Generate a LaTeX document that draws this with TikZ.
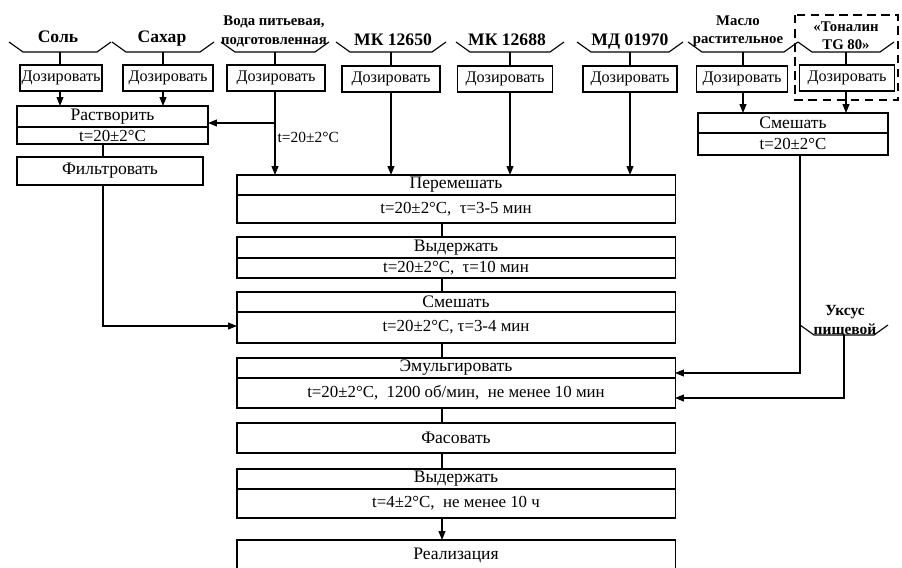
\documentclass[tikz,border=0pt]{standalone}
\usepackage{fontspec}
\setmainfont{Liberation Serif}
\usetikzlibrary{positioning,arrows.meta,calc}
\tikzset{
	dose/.style={draw, line width=0.8pt, minimum height=0.65cm, inner sep=0pt,
		font=\fontsize{11.5}{14}\selectfont},
	head/.style={draw, line width=0.8pt, minimum width=10.95cm, minimum height=0.5cm,
		inner sep=0pt, outer sep=0pt, font=\fontsize{12.5}{14}\selectfont},
	param/.style={head, font=\fontsize{12}{14}\selectfont},
	src/.style={font=\fontsize{12.5}{14}\selectfont\bfseries, align=center,
		anchor=base, inner sep=0pt},
	src2/.style={src, anchor=south, font=\fontsize{10.5}{13}\selectfont\bfseries},
	flow/.style={-{Triangle[length=2.2mm,width=1.7mm]}, line width=0.8pt},
	link/.style={line width=0.8pt},
	note/.style={font=\fontsize{11}{13}\selectfont, inner sep=1pt},
	% ----- bracket under a raw material -----
	pics/tray/.style={code={
			\draw[line width=0.8pt] (-#1-14,-10) -- (-#1,0) -- (#1,0) -- (#1+14,-10);
	}},
}

\begin{document}
\begin{tikzpicture}[x=0.025cm, y=-0.025cm]
		\useasboundingbox (0,0) rectangle (902,567);
		
		% ================= Raw materials =================
		\node[src] (salt) at (58,42) {Соль};
		\node[src] (sugar) at (162,42) {Сахар};
		\node[src2] (water) at (274,47) {Вода питьевая,\\подготовленная};
		\node[src] (mk1) at (393,45) {МК 12650};
		\node[src] (mk2) at (507,45) {МК 12688};
		\node[src] (md) at (630,45) {МД 01970};
		\node[src2] (oil) at (738,47) {Масло\\растительное};
		\node[src2] (ton) at (846,50) {«Тоналин\\TG 80»};
		
		\foreach \n/\x/\w in {salt/60/37, sugar/163/37, water/275/40, mk1/391/41,
			mk2/510/40, md/630/39, oil/743/41, ton/846/34}{
			\coordinate (\n B) at (\x,52);
			\pic at (\n B) {tray=\w};
		}
		
		\draw[dashed, line width=0.9pt, dash pattern=on 6pt off 4pt] (795,15) rectangle (898,100);
		
		% ================= Dosing =================
		\node[dose, minimum width=2.05cm] (saltD) at (61,78) {Дозировать};
		\node[dose, minimum width=2.25cm] (sugarD) at (168,78) {Дозировать};
		\node[dose, minimum width=2.45cm] (waterD) at (276,78) {Дозировать};
		\node[dose, minimum width=2.45cm] (mk1D) at (391,79) {Дозировать};
		\node[dose, minimum width=2.375cm] (mk2D) at (505,79) {Дозировать};
		\node[dose, minimum width=2.35cm] (mdD) at (630,79) {Дозировать};
		\node[dose, minimum width=2.275cm] (oilD) at (742,79) {Дозировать};
		\node[dose, minimum width=2.375cm] (tonD) at (847,78) {Дозировать};
		
		\foreach \n in {salt,sugar,water,mk1,mk2,md,oil,ton}
		\draw[link] (\n B) -- (\n B |- \n D.north);
		
		% ================= Left branch =================
		\node[head, minimum width=4.775cm, minimum height=0.525cm] (dis) at (112.5,116.5) {Растворить};
		\node[param, minimum width=4.775cm, minimum height=0.425cm, below=0pt of dis] (disP) {t=20±2°C};
		\node[head, minimum width=4.65cm, minimum height=0.7cm] (fil) at (110,171) {Фильтровать};
		
		% ================= Main line =================
		\node[head] (mixH) at (456,185) {Перемешать};
		\node[param, minimum height=0.7cm, below=0pt of mixH] (mixP) {t=20±2°C,\ \ τ=3-5 мин};
		\node[head, minimum height=0.525cm] (hold) at (456,247.5) {Выдержать};
		\node[param, below=0pt of hold] (holdP) {t=20±2°C,\ \ τ=10 мин};
		\node[head] (mix2) at (456,302) {Смешать};
		\node[param, minimum height=0.775cm, below=0pt of mix2] (mix2P) {t=20±2°C, τ=3-4 мин};
		\node[head] (emu) at (456,368) {Эмульгировать};
		\node[param, minimum height=0.75cm, below=0pt of emu] (emuP) {t=20±2°C,\ \ 1200 об/мин,\ \ не менее 10 мин};
		\node[head, minimum height=0.75cm] (pack) at (456,438) {Фасовать};
		\node[head] (hold2) at (456,479) {Выдержать};
		\node[param, minimum height=0.725cm, below=0pt of hold2] (hold2P) {t=4±2°C,\ \ не менее 10 ч};
		\node[head, minimum height=0.75cm] (sale) at (456,555) {Реализация};
		
		% ================= Right branch =================
		\node[head, minimum width=4.75cm] (rmix) at (793,123) {Смешать};
		\node[param, minimum width=4.75cm, minimum height=0.55cm, below=0pt of rmix] (rmixP) {t=20±2°C};
		
		\node[src2, font=\fontsize{11}{13}\selectfont\bfseries] (vin) at (845,337) {Уксус\\пищевой};
		\coordinate (vinB) at (844,335);
		\pic at (vinB) {tray=30};
		
		% ================= Flows =================
		\draw[flow] (saltB |- saltD.south) -- (saltB |- dis.north);
		\draw[flow] (sugarB |- sugarD.south) -- (sugarB |- dis.north);
		\draw[flow] (waterB |- waterD.south) -- (waterB |- mixH.north);
		\coordinate (waterJ) at (275,123);
		\draw[flow] (waterJ) -- (waterJ -| dis.east);
		\node[note, anchor=west] (waterT) at (276,137) {t=20±2°C};
		\draw[flow] (mk1B |- mk1D.south) -- (mk1B |- mixH.north);
		\draw[flow] (mk2B |- mk2D.south) -- (mk2B |- mixH.north);
		\draw[flow] (mdB |- mdD.south) -- (mdB |- mixH.north);
		\draw[flow] (oilB |- oilD.south) -- (oilB |- rmix.north);
		\draw[flow] (tonB |- tonD.south) -- (tonB |- rmix.north);
		
		\coordinate (filX) at (103,0);
		\draw[link] (filX |- disP.south) -- (filX |- fil.north);
		\coordinate (filJ) at (103,326);
		\draw[flow] (filX |- fil.south) -- (filJ) -- (filJ -| mix2P.west);
		
		\coordinate (mainX) at (442,0);
		\draw[link] (mainX |- mixP.south) -- (mainX |- hold.north);
		\draw[link] (mainX |- holdP.south) -- (mainX |- mix2.north);
		\draw[link] (mainX |- mix2P.south) -- (mainX |- emu.north);
		\draw[link] (mainX |- emuP.south) -- (mainX |- pack.north);
		\draw[link] (mainX |- pack.south) -- (mainX |- hold2.north);
		\draw[flow] (mainX |- hold2P.south) -- (mainX |- sale.north);
		
		\coordinate (rJ) at (800,373);
		\draw[flow] (rJ |- rmixP.south) -- (rJ) -- (rJ -| emu.east);
		\coordinate (vJ) at (844,398);
		\draw[flow] (vinB) -- (vJ) -- (vJ -| emuP.east);
		
	\end{tikzpicture}
\end{document}
